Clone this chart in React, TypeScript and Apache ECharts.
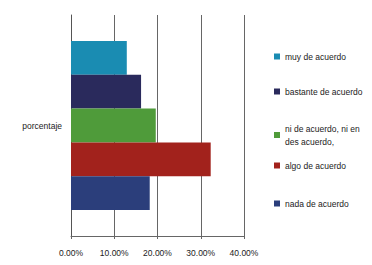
import React, { useEffect, useRef } from "react";
import * as echarts from "echarts";

const categories = ["porcentaje"];
const seriesNames = [
  "muy de acuerdo",
  "bastante de acuerdo",
  "ni de acuerdo, ni en\ndes acuerdo,",
  "algo de acuerdo",
  "nada de acuerdo",
];
const seriesValues = [12.9, 16.2, 19.6, 32.3, 18.2];
const seriesColors = ["#1a8cb2", "#2a2a5c", "#4f9b3a", "#a2221c", "#2b3e7b"];
const xTicks = [0, 10, 20, 30, 40];
const legendTops = [50, 85, 122, 159, 197];

const FONT = "'Liberation Sans Narrow', 'Liberation Sans', Arial, sans-serif";

export default function App() {
  const ref = useRef<HTMLDivElement>(null);
  useEffect(() => {
    const chart = echarts.init(ref.current!, null, { renderer: "svg" });
    chart.setOption({
      animation: false,
      backgroundColor: "#ffffff",
      grid: { left: 71, right: 128, top: 15, bottom: 29, containLabel: false },
      xAxis: {
        type: "value",
        min: xTicks[0],
        max: xTicks[xTicks.length - 1],
        interval: 10,
        axisLine: { show: true, lineStyle: { color: "#666", width: 1 } },
        axisTick: { show: true, length: 3, lineStyle: { color: "#666" } },
        axisLabel: {
          formatter: (v: number) => v.toFixed(2) + "%",
          fontFamily: FONT,
          fontSize: 8.5,
          color: "#222",
          margin: 12,
        },
        splitLine: { show: true, lineStyle: { color: "#666", width: 1 } },
      },
      yAxis: {
        type: "category",
        data: categories,
        inverse: true,
        axisLine: { show: true, lineStyle: { color: "#555", width: 1 } },
        axisTick: { show: false },
        axisLabel: { fontFamily: FONT, fontSize: 8.5, color: "#222", margin: 9 },
      },
      legend: seriesNames.map((n, i) => ({
        data: [n],
        left: 274,
        top: legendTops[i],
        orient: "vertical",
        itemWidth: 6,
        itemHeight: 6,
        itemGap: 0,
        icon: "rect",
        textStyle: { fontFamily: FONT, fontSize: 8.5, color: "#222", lineHeight: 13 },
        padding: 0,
        align: "left",
        selectedMode: false,
      })),
      series: seriesNames.map((n, i) => ({
        name: n,
        type: "bar",
        data: [seriesValues[i]],
        itemStyle: { color: seriesColors[i] },
        barGap: "0%",
        barCategoryGap: "23.5%",
      })),
    });
    return () => chart.dispose();
  }, []);
  return (
    <div
      ref={ref}
      style={{ position: "fixed", left: 0, top: 0, width: 372, height: 265 }}
    />
  );
}
